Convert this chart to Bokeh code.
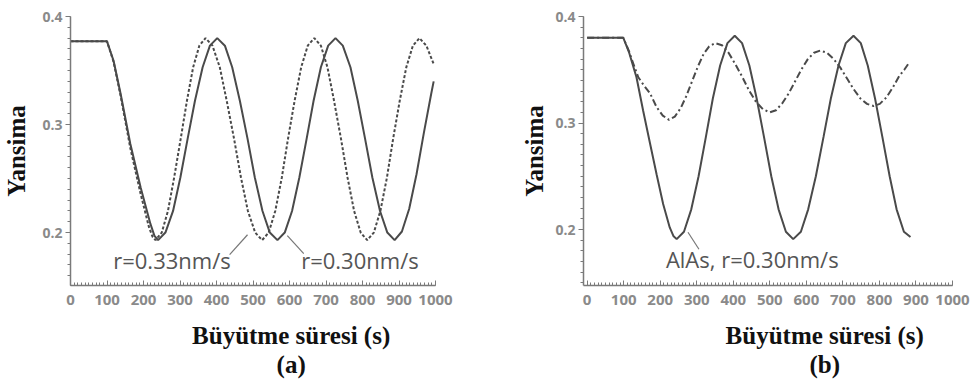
import numpy as np
from bokeh.plotting import figure
from bokeh.models import Label, FixedTicker, Range1d
from bokeh.layouts import row, column
from bokeh.core.properties import value
from bokeh.embed import file_html
from bokeh.resources import INLINE

# ---------------- data ----------------
# Panel (a): r = 0.30 nm/s (solid)
a_solid_x = [0, 100, 118, 137, 164, 192, 219, 230, 240,
             260, 281, 301, 321, 341, 362, 382, 402,
             423, 443, 464, 485, 505, 526, 546, 567,
             587, 607, 627, 647, 666, 686, 706, 726,
             746, 767, 787, 807, 827, 848, 868, 888,
             908, 928, 948, 968, 988, 995]
a_solid_y = [0.377, 0.377, 0.359, 0.329, 0.282, 0.242, 0.208, 0.197, 0.193,
             0.200, 0.220, 0.251, 0.287, 0.322, 0.353, 0.373, 0.380,
             0.373, 0.353, 0.322, 0.287, 0.251, 0.220, 0.200, 0.193,
             0.200, 0.220, 0.251, 0.287, 0.322, 0.353, 0.373, 0.380,
             0.373, 0.353, 0.322, 0.287, 0.251, 0.220, 0.200, 0.193,
             0.201, 0.222, 0.254, 0.292, 0.328, 0.340]
# Panel (a): r = 0.33 nm/s (dashed)
a_dash_x = [0, 100, 118, 137, 164, 192, 215, 225, 233,
            250, 267, 284, 302, 319, 336, 353, 370,
            389, 409, 428, 448, 467, 486, 506, 525,
            543, 561, 579, 596, 614, 632, 650, 668,
            686, 704, 722, 741, 759, 777, 795, 813,
            831, 849, 867, 884, 902, 920, 938, 956,
            975, 995]
a_dash_y = [0.377, 0.377, 0.358, 0.327, 0.278, 0.236, 0.205, 0.196, 0.193,
            0.200, 0.220, 0.251, 0.287, 0.322, 0.353, 0.373, 0.380,
            0.373, 0.353, 0.322, 0.287, 0.251, 0.220, 0.200, 0.193,
            0.200, 0.220, 0.251, 0.287, 0.322, 0.353, 0.373, 0.380,
            0.373, 0.353, 0.322, 0.287, 0.251, 0.220, 0.200, 0.193,
            0.200, 0.220, 0.251, 0.287, 0.322, 0.353, 0.373, 0.380,
            0.373, 0.356]
# Panel (b): AlAs, r = 0.30 nm/s (solid)
b_solid_x = [0, 99, 115, 135, 153, 172, 190, 208, 226, 236, 245,
             265, 285, 305, 325, 344, 364, 384, 404,
             424, 444, 464, 484, 504, 524, 544, 564,
             585, 605, 626, 647, 667, 688, 708, 729,
             749, 768, 788, 808, 828, 847, 867, 885]
b_solid_y = [0.380, 0.380, 0.366, 0.343, 0.312, 0.281, 0.252, 0.224, 0.202, 0.194, 0.191,
             0.198, 0.219, 0.250, 0.287, 0.323, 0.354, 0.375, 0.382,
             0.375, 0.354, 0.323, 0.287, 0.250, 0.219, 0.198, 0.191,
             0.198, 0.219, 0.250, 0.287, 0.323, 0.354, 0.375, 0.382,
             0.375, 0.354, 0.323, 0.287, 0.250, 0.219, 0.198, 0.193]
# Panel (b): dash-dot curve
b_dd_x = [0, 99, 115, 126, 140, 156, 172, 190, 207, 224,
          240, 256, 271, 287, 303, 319, 334, 350,
          369, 387, 406, 425, 444, 462, 481, 500,
          517, 535, 552, 569, 586, 604, 621, 638,
          656, 675, 693, 711, 729, 748, 766, 784,
          801, 819, 836, 854, 868, 880]
b_dd_y = [0.380, 0.380, 0.367, 0.356, 0.343, 0.335, 0.328, 0.315, 0.307, 0.303,
          0.306, 0.314, 0.325, 0.339, 0.353, 0.365, 0.372, 0.375,
          0.373, 0.366, 0.355, 0.343, 0.330, 0.320, 0.313, 0.310,
          0.312, 0.319, 0.328, 0.339, 0.350, 0.360, 0.366, 0.368,
          0.366, 0.360, 0.352, 0.342, 0.332, 0.323, 0.318, 0.316,
          0.318, 0.324, 0.333, 0.344, 0.350, 0.356]

x_ticks = [0, 100, 200, 300, 400, 500, 600, 700, 800, 900, 1000]
y_ticks = [0.2, 0.3, 0.4]

# annotation texts and anchors
a_texts = ["r=0.33nm/s", "r=0.30nm/s"]
a_text_x = [278, 793]
a_text_y = [0.1745, 0.1745]
a_lead_x0 = [436, 594]
a_lead_y0 = [0.1795, 0.1972]
a_lead_x1 = [485, 639]
a_lead_y1 = [0.1980, 0.1805]

b_texts = ["AlAs, r=0.30nm/s"]
b_text_x = [452]
b_text_y = [0.1720]
b_lead_x0 = [276]
b_lead_y0 = [0.1975]
b_lead_x1 = [306]
b_lead_y1 = [0.1815]

x_label = "Büyütme süresi (s)"
y_label = "Yansima"
panel_tags = ["(a)", "(b)"]

LINE = "#4a4a4a"
AXIS = "#7a7a7a"
TICKLAB = "#8a8a8a"
SERIF = "Liberation Serif"
SANS = "Open Sans"
LAB_SIZE = "25px"


def make_fig(width, bl, br, xr, yr, ylab_standoff):
    p = figure(width=width, height=320, output_backend="svg", toolbar_location=None,
               x_range=Range1d(*xr), y_range=Range1d(*yr))
    p.min_border_left = bl
    p.min_border_right = br
    p.min_border_top = 16
    p.min_border_bottom = 35
    p.outline_line_color = None
    p.grid.visible = False
    p.background_fill_color = "white"
    p.border_fill_color = "white"

    xa = p.xaxis[0]
    xa.ticker = FixedTicker(ticks=x_ticks, minor_ticks=list(np.arange(0, 1001, 10)))
    xa.axis_line_color = AXIS
    xa.axis_line_width = 1.5
    xa.major_tick_line_color = AXIS
    xa.minor_tick_line_color = AXIS
    xa.major_tick_in = 5
    xa.major_tick_out = 0
    xa.minor_tick_in = 3
    xa.minor_tick_out = 0
    xa.major_label_text_color = TICKLAB
    xa.major_label_text_font = SANS
    xa.major_label_text_font_style = "bold"
    xa.major_label_text_font_size = "15px"
    xa.major_label_standoff = 9

    ya = p.yaxis[0]
    ya.ticker = FixedTicker(ticks=y_ticks, minor_ticks=list(np.round(np.arange(0.15, 0.401, 0.01), 3)))
    ya.axis_line_color = AXIS
    ya.axis_line_width = 1.5
    ya.major_tick_line_color = AXIS
    ya.minor_tick_line_color = AXIS
    ya.major_tick_in = 0
    ya.major_tick_out = 5
    ya.minor_tick_in = 0
    ya.minor_tick_out = 3
    ya.major_label_text_color = TICKLAB
    ya.major_label_text_font = SANS
    ya.major_label_text_font_style = "bold"
    ya.major_label_text_font_size = "14px"
    ya.major_label_standoff = 3
    ya.axis_label = y_label
    ya.axis_label_text_font = SERIF
    ya.axis_label_text_font_style = "bold"
    ya.axis_label_text_font_size = LAB_SIZE
    ya.axis_label_text_color = "#111111"
    ya.axis_label_standoff = ylab_standoff
    return p


def make_label_fig(width, cx, tag):
    q = figure(width=width, height=60, output_backend="svg", toolbar_location=None,
               x_range=Range1d(0, width), y_range=Range1d(0, 60))
    q.min_border = 0
    q.axis.visible = False
    q.grid.visible = False
    q.outline_line_color = None
    q.text(x=[cx, cx], y=[45, 16], text=[x_label, tag],
           text_font=value(SERIF), text_font_style="bold", text_font_size=LAB_SIZE,
           text_color="#111111", text_align="center", text_baseline="middle")
    return q


# ---------------- panel (a) ----------------
pa = make_fig(488, 70, 53, (0, 1000), (0.151, 0.4), 9)
pa.line(a_solid_x, a_solid_y, line_color=LINE, line_width=2)
pa.line(a_dash_x, a_dash_y, line_color=LINE, line_width=2, line_dash="3 2")
pa.segment(a_lead_x0, a_lead_y0, a_lead_x1, a_lead_y1, line_color="#777777", line_width=1.2)
for t, x, y in zip(a_texts, a_text_x, a_text_y):
    pa.add_layout(Label(x=x, y=y, text=t, text_font=SANS, text_font_size="22px",
                        text_color="#555555", text_align="center", text_baseline="middle"))
la = make_label_fig(488, 295, panel_tags[0])

# ---------------- panel (b) ----------------
pb = make_fig(485, 95, 21, (-10, 1000), (0.1475, 0.4), 4)
pb.line(b_solid_x, b_solid_y, line_color=LINE, line_width=2)
pb.line(b_dd_x, b_dd_y, line_color=LINE, line_width=2, line_dash="7 3 2 3")
pb.segment(b_lead_x0, b_lead_y0, b_lead_x1, b_lead_y1, line_color="#777777", line_width=1.2)
for t, x, y in zip(b_texts, b_text_x, b_text_y):
    pb.add_layout(Label(x=x, y=y, text=t, text_font=SANS, text_font_size="22px",
                        text_color="#555555", text_align="center", text_baseline="middle"))
lb = make_label_fig(485, 317, panel_tags[1])

layout = row(column(pa, la, spacing=0), column(pb, lb, spacing=0), spacing=0)
open("out.html", "w").write(file_html(layout, INLINE))
